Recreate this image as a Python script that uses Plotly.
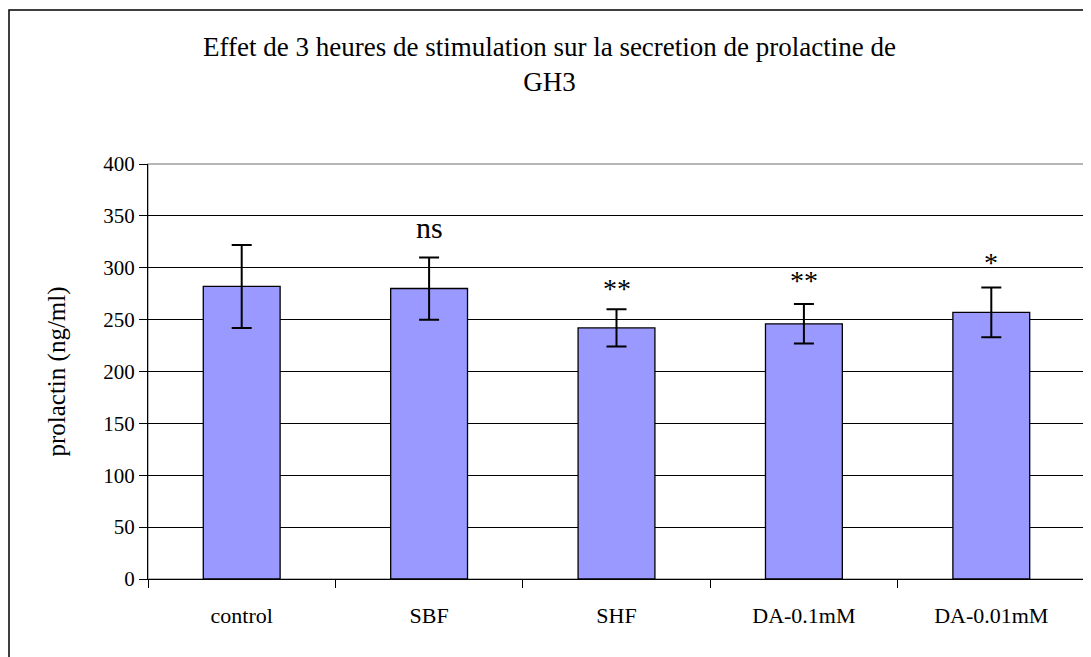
import plotly.graph_objects as go

categories = ['control', 'SBF', 'SHF', 'DA-0.1mM', 'DA-0.01mM']
prolactin = [282, 280, 242, 246, 257]
errors = [40, 30, 18, 19, 24]
signif = ['', 'ns', '**', '**', '*']
signif_y = [0, 339, 280, 288, 305]
y_ticks = [0, 50, 100, 150, 200, 250, 300, 350, 400]

FONT = 'Liberation Serif'

fig = go.Figure()
fig.add_trace(go.Bar(x=categories, y=prolactin, width=0.41,
                     marker=dict(color='#9999ff', line=dict(color='black', width=1.3)),
                     error_y=dict(type='data', array=errors, color='black', thickness=2, width=10),
                     showlegend=False))

# significance marks above bars
for cat, lab, yy in zip(categories, signif, signif_y):
    if not lab:
        continue
    fig.add_annotation(x=cat, y=yy, text=lab, showarrow=False,
                       font=dict(family=FONT, size=30 if lab == 'ns' else 28, color='black'))

# page has an 8px body margin, so the figure is a bit smaller than the window
W, H = 1083, 649
L, R, T, B = 140, 6, 156, 78
pw, ph = W - L - R, H - T - B

# outer chart frame
fig.add_shape(type='rect', xref='paper', yref='paper',
              x0=(1 - L) / pw, x1=(1081 - L) / pw,
              y0=(H - B - 700) / ph, y1=(H - B - 2) / ph,
              line=dict(color='black', width=1.5), fillcolor='rgba(0,0,0,0)')
# plot area frame (grey)
fig.add_shape(type='rect', xref='paper', yref='paper', x0=0, x1=1, y0=0, y1=1,
              line=dict(color='#a0a0a0', width=1.5), layer='below')

fig.update_layout(
    width=W, height=H,
    margin=dict(l=L, r=R, t=T, b=B),
    plot_bgcolor='white', paper_bgcolor='white',
    font=dict(family=FONT, size=21, color='black'),
    title=dict(text='Effet de 3 heures de stimulation sur la secretion de prolactine de<br>GH3',
               x=0.5, xref='container', xanchor='center', y=1 - 48 / H, yanchor='top',
               font=dict(family=FONT, size=27)),
    bargap=0.59,
)
fig.update_xaxes(showline=True, linecolor='black', linewidth=1.3, showgrid=False,
                 ticks='outside', tickson='boundaries', ticklen=8, tickcolor='black',
                 tickfont=dict(size=22), ticklabelstandoff=16, range=[-0.5, 4.5])
fig.update_yaxes(range=[0, 400], tickvals=y_ticks, showline=True, linecolor='black', linewidth=1.3,
                 showgrid=True, gridcolor='black', gridwidth=1, zeroline=False,
                 ticks='outside', ticklen=8, tickcolor='black', tickfont=dict(size=21),
                 title=dict(text='prolactin (ng/ml)', font=dict(size=25), standoff=30))

fig.write_html('out.html')
